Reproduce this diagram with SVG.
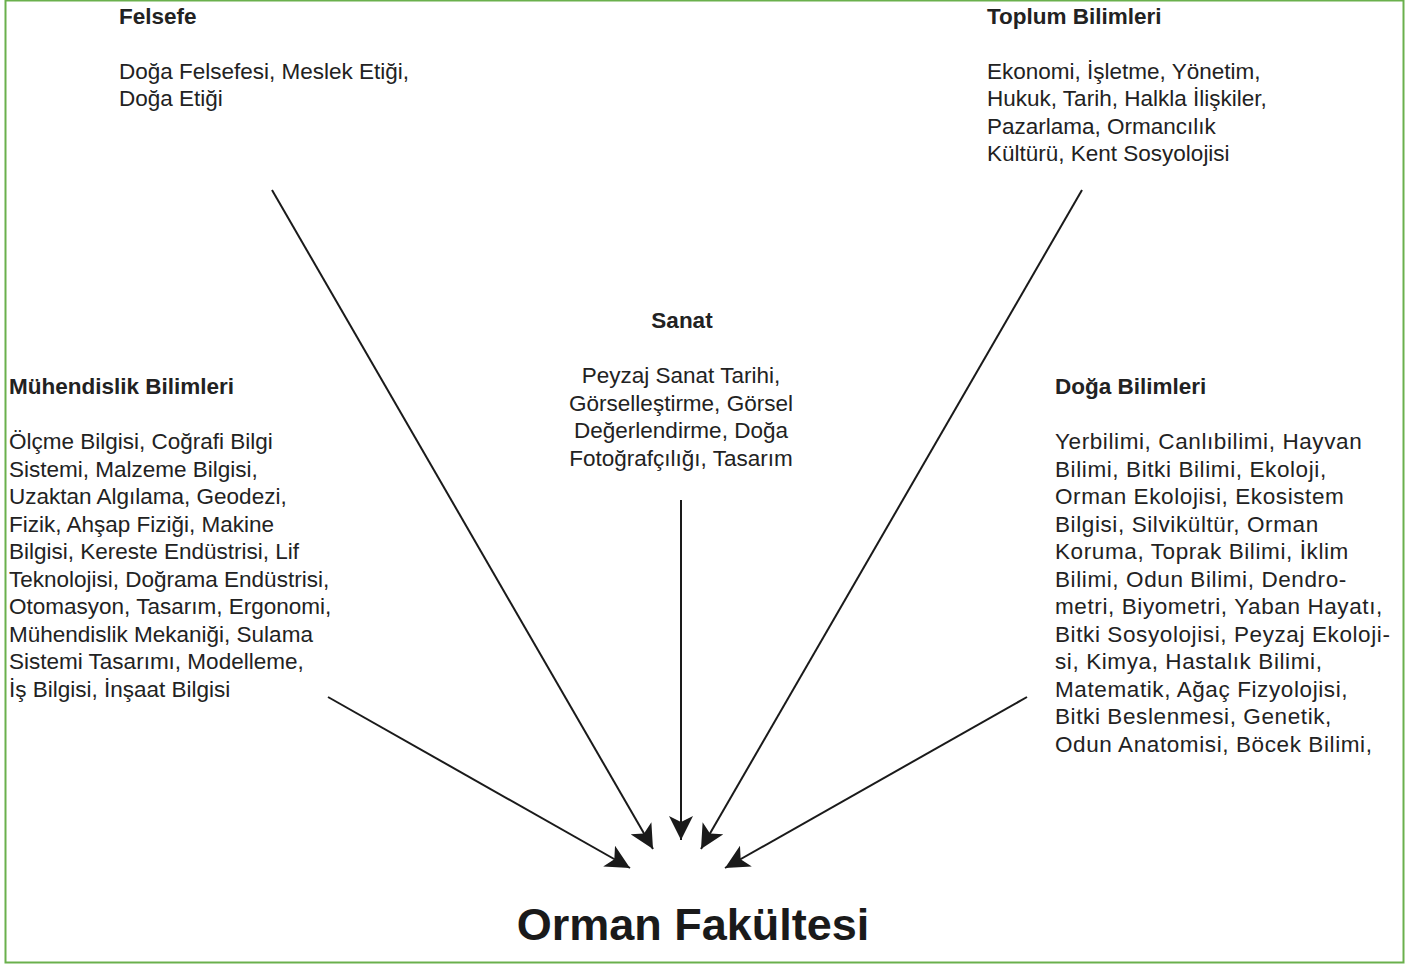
<svg xmlns="http://www.w3.org/2000/svg" width="1415" height="964" viewBox="0 0 1415 964">
<style>
text{font-family:"Liberation Sans",Arial,sans-serif;fill:#222;font-size:22.5px}
.h{font-weight:bold}
.c{text-anchor:middle}
.w{letter-spacing:0.6px}
.t{font-size:45px;font-weight:bold;fill:#1a1a1a}
.e{stroke:#1a1a1a;stroke-width:2;fill:none}
</style>
<defs>
<marker id="ah" viewBox="0 0 24 24" refX="24" refY="12" markerWidth="24" markerHeight="24" markerUnits="userSpaceOnUse" orient="auto">
<path d="M0,0 L24,12 L0,24 L6,12 Z" fill="#1a1a1a"/>
</marker>
</defs>
<rect x="0" y="0" width="1415" height="964" fill="#fff"/>
<rect x="5.5" y="0.5" width="1398" height="962" fill="none" stroke="#6ab04c" stroke-width="2"/>
<g id="felsefe">
<text class="h" x="119" y="24">Felsefe</text>
<text x="119" y="79">Doğa Felsefesi, Meslek Etiği,</text>
<text x="119" y="106">Doğa Etiği</text>
</g>
<g id="toplum">
<text class="h" x="987" y="24">Toplum Bilimleri</text>
<text x="987" y="79">Ekonomi, İşletme, Yönetim,</text>
<text x="987" y="106">Hukuk, Tarih, Halkla İlişkiler,</text>
<text x="987" y="134">Pazarlama, Ormancılık</text>
<text x="987" y="161">Kültürü, Kent Sosyolojisi</text>
</g>
<g id="sanat">
<text class="h c" x="682" y="328">Sanat</text>
<text class="c" x="681" y="383">Peyzaj Sanat Tarihi,</text>
<text class="c" x="681" y="411">Görselleştirme, Görsel</text>
<text class="c" x="681" y="438">Değerlendirme, Doğa</text>
<text class="c" x="681" y="466">Fotoğrafçılığı, Tasarım</text>
</g>
<g id="muhendislik">
<text class="h" x="9" y="394">Mühendislik Bilimleri</text>
<text x="9" y="449">Ölçme Bilgisi, Coğrafi Bilgi</text>
<text x="9" y="477">Sistemi, Malzeme Bilgisi,</text>
<text x="9" y="504">Uzaktan Algılama, Geodezi,</text>
<text x="9" y="532">Fizik, Ahşap Fiziği, Makine</text>
<text x="9" y="559">Bilgisi, Kereste Endüstrisi, Lif</text>
<text x="9" y="587">Teknolojisi, Doğrama Endüstrisi,</text>
<text x="9" y="614">Otomasyon, Tasarım, Ergonomi,</text>
<text x="9" y="642">Mühendislik Mekaniği, Sulama</text>
<text x="9" y="669">Sistemi Tasarımı, Modelleme,</text>
<text x="9" y="697">İş Bilgisi, İnşaat Bilgisi</text>
</g>
<g id="doga">
<text class="h" x="1055" y="394">Doğa Bilimleri</text>
<text class="w" x="1055" y="449">Yerbilimi, Canlıbilimi, Hayvan</text>
<text class="w" x="1055" y="477">Bilimi, Bitki Bilimi, Ekoloji,</text>
<text class="w" x="1055" y="504">Orman Ekolojisi, Ekosistem</text>
<text class="w" x="1055" y="532">Bilgisi, Silvikültür, Orman</text>
<text class="w" x="1055" y="559">Koruma, Toprak Bilimi, İklim</text>
<text class="w" x="1055" y="587">Bilimi, Odun Bilimi, Dendro-</text>
<text class="w" x="1055" y="614">metri, Biyometri, Yaban Hayatı,</text>
<text class="w" x="1055" y="642">Bitki Sosyolojisi, Peyzaj Ekoloji-</text>
<text class="w" x="1055" y="669">si, Kimya, Hastalık Bilimi,</text>
<text class="w" x="1055" y="697">Matematik, Ağaç Fizyolojisi,</text>
<text class="w" x="1055" y="724">Bitki Beslenmesi, Genetik,</text>
<text class="w" x="1055" y="752">Odun Anatomisi, Böcek Bilimi,</text>
</g>
<g id="orman">
<text class="t c" x="693" y="940">Orman Fakültesi</text>
</g>
<g id="connectors">
<line class="e" x1="272" y1="190" x2="653" y2="849" marker-end="url(#ah)"/>
<line class="e" x1="681" y1="500" x2="681" y2="840" marker-end="url(#ah)"/>
<line class="e" x1="1082" y1="190" x2="701" y2="849" marker-end="url(#ah)"/>
<line class="e" x1="328" y1="697" x2="630" y2="868" marker-end="url(#ah)"/>
<line class="e" x1="1027" y1="697" x2="725" y2="868" marker-end="url(#ah)"/>
</g>
</svg>
